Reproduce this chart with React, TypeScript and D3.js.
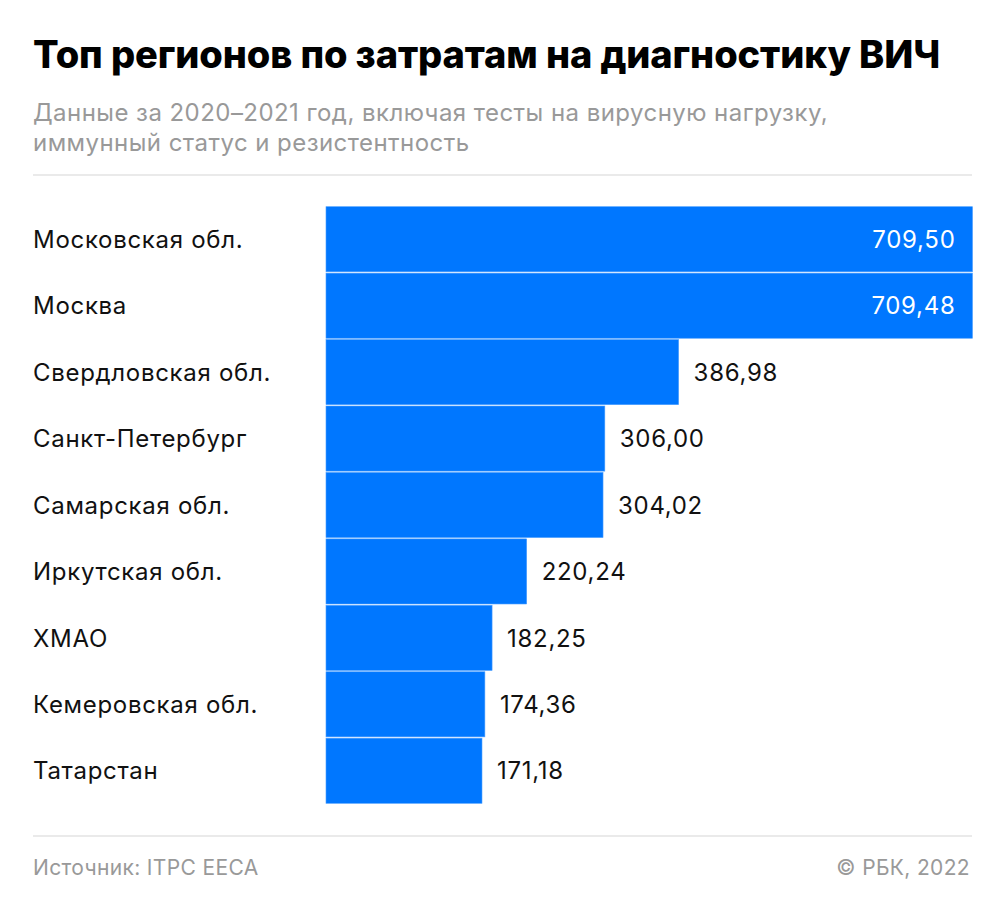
import React from "react";
import * as d3 from "d3";

const regions = [
  "Московская обл.",
  "Москва",
  "Свердловская обл.",
  "Санкт-Петербург",
  "Самарская обл.",
  "Иркутская обл.",
  "ХМАО",
  "Кемеровская обл.",
  "Татарстан",
];
const values = [709.5, 709.48, 386.98, 306.0, 304.02, 220.24, 182.25, 174.36, 171.18];
const valueLabels = ["709,50", "709,48", "386,98", "306,00", "304,02", "220,24", "182,25", "174,36", "171,18"];

const W = 1005;
const H = 914;
const FONT = "Inter, Roboto, sans-serif";

export default function App() {
  const x = d3.scaleLinear().domain([0, 709.5]).range([326, 972.5]);
  const y = d3.scaleBand<string>().domain(regions).range([206.7, 803.3]).paddingInner(0.02).paddingOuter(0);
  return (
    <svg width={W} height={H} style={{ display: "block", position: "absolute", left: 0, top: 0 }} fontFamily={FONT}>
      <rect x={0} y={0} width={W} height={H} fill="#fff" />
      <text x={33} y={68} fontSize={38} fontWeight={800} fill="#000" letterSpacing={-0.1}>
        Топ регионов по затратам на диагностику ВИЧ
      </text>
      <text x={33} y={121} fontSize={24} fill="#999" letterSpacing={0.45}>
        Данные за 2020–2021 год, включая тесты на вирусную нагрузку,
      </text>
      <text x={33} y={151} fontSize={24} fill="#999" letterSpacing={0.45}>
        иммунный статус и резистентность
      </text>
      <line x1={33} x2={972} y1={175} y2={175} stroke="#e3e3e3" strokeWidth={1.5} />
      {regions.map((r, i) => {
        const by = y(r)!;
        const bh = y.bandwidth();
        const inside = i < 2;
        return (
          <g key={r}>
            <rect x={x(0)} y={by} width={x(values[i]) - x(0)} height={bh} fill="#0077ff" stroke="#4a9dff" strokeWidth={0.6} />
            <text x={33} y={by + bh / 2} dy="0.36em" fontSize={24} fill="#111" letterSpacing={0.7}>
              {r}
            </text>
            <text
              x={inside ? x(values[i]) - 17 : x(values[i]) + 15}
              y={by + bh / 2}
              dy="0.36em"
              fontSize={24}
              fill={inside ? "#fff" : "#111"}
              textAnchor={inside ? "end" : "start"}
              letterSpacing={0.7}
            >
              {valueLabels[i]}
            </text>
          </g>
        );
      })}
      <line x1={33} x2={972} y1={836} y2={836} stroke="#e3e3e3" strokeWidth={1.5} />
      <text x={33} y={875} fontSize={21} fill="#999" letterSpacing={0.35}>
        Источник: ITPC EECA
      </text>
      <text x={970} y={875} fontSize={21} fill="#999" textAnchor="end" letterSpacing={0.35}>
        © РБК, 2022
      </text>
    </svg>
  );
}
